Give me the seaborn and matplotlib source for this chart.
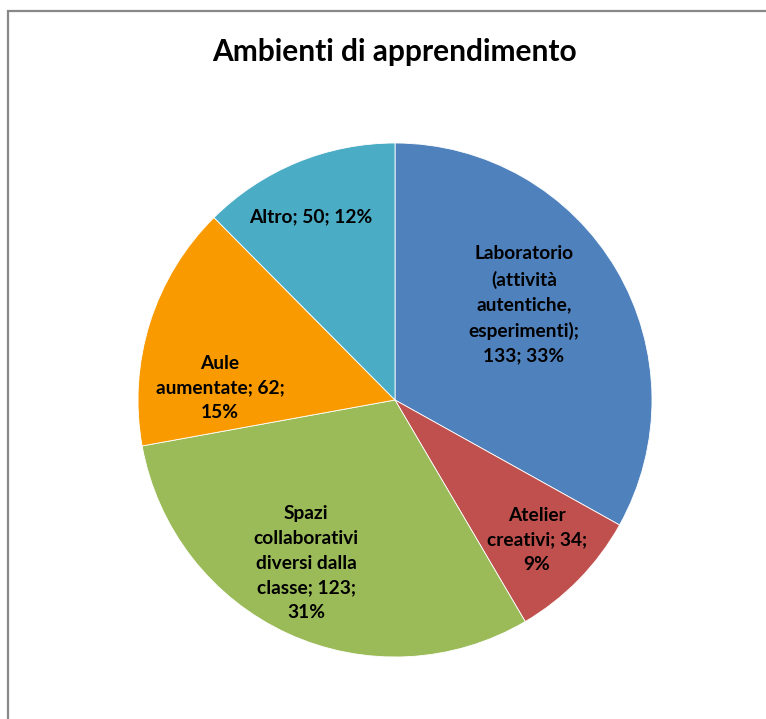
import numpy as np
import matplotlib
matplotlib.use("Agg")
import matplotlib.pyplot as plt
import seaborn as sns
from matplotlib.patches import Rectangle

# data
categories = ["Laboratorio (attività autentiche, esperimenti)", "Atelier creativi",
              "Spazi collaborativi diversi dalla classe", "Aule aumentate", "Altro"]
values = [133, 34, 123, 62, 50]
percents = [33, 9, 31, 15, 12]
label_text = ["Laboratorio\n(attività\nautentiche,\nesperimenti);\n133; 33%",
              "Atelier\ncreativi; 34;\n9%",
              "Spazi\ncollaborativi\ndiversi dalla\nclasse; 123;\n31%",
              "Aule\naumentate; 62;\n15%",
              "Altro; 50; 12%"]

colors = sns.color_palette(["#4F81BD", "#C0504D", "#9BBB59", "#F99B00", "#4BACC6"])

# label placement (radius fraction, angle in degrees) as in the original
label_pos = [(0.623, 36.4), (0.776, -44.6), (0.723, -118.6), (0.683, 176.1), (0.783, 114.7)]

sns.set_theme(style="white")
plt.rcParams["font.family"] = ["Lato", "DejaVu Sans"]

fig = plt.figure(figsize=(7.66, 7.19), dpi=100)
ax = fig.add_axes([138 / 766, 62 / 719, 514 / 766, 514 / 719])

ax.pie(values, labels=None, colors=colors, startangle=90, counterclock=False,
       wedgeprops=dict(linewidth=0.6, edgecolor="white"))
ax.set_xlim(-1, 1)
ax.set_ylim(-1, 1)
ax.set_aspect("equal")
ax.axis("off")

for txt, (r, a) in zip(label_text, label_pos):
    t = np.deg2rad(a)
    ax.text(r * np.cos(t), r * np.sin(t), txt, ha="center", va="center",
            fontsize=13.8, fontweight="bold", color="black", linespacing=1.55)

fig.text(394 / 766, 1 - 52 / 719, "Ambienti di apprendimento", ha="center", va="center",
         fontsize=21.5, fontweight="bold", color="black")

fig.patches.append(Rectangle((8 / 766, -0.02), 1.1, 1 - 11 / 719 + 0.02,
                             transform=fig.transFigure, fill=False,
                             edgecolor="#888888", linewidth=1.6))

fig.savefig("out.png", dpi=100)
